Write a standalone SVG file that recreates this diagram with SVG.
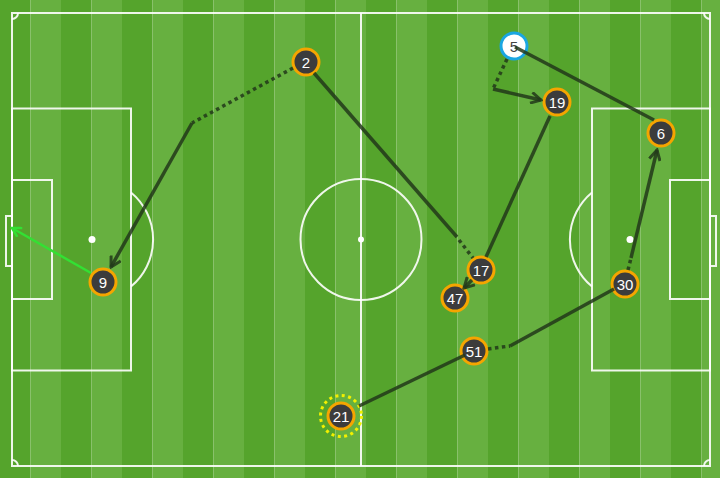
<svg xmlns="http://www.w3.org/2000/svg" width="720" height="478" viewBox="0 0 720 478">
<defs>
<pattern id="stripes" x="0" y="0" width="61" height="478" patternUnits="userSpaceOnUse">
<rect x="0" y="0" width="30.5" height="478" fill="#55a42c"/>
<rect x="30.5" y="0" width="30.5" height="478" fill="#67b040"/>
</pattern>
<marker id="arr" viewBox="0 0 13 13" refX="11" refY="6.5" markerWidth="13" markerHeight="13" markerUnits="userSpaceOnUse" orient="auto">
<path d="M1,1 L11,6.5 L1,12" fill="none" stroke="#22381a" stroke-width="3" stroke-opacity="0.85"/>
</marker>
<marker id="arrg" viewBox="0 0 12 12" refX="10" refY="6" markerWidth="12" markerHeight="12" markerUnits="userSpaceOnUse" orient="auto">
<path d="M1,1 L10,6 L1,11" fill="none" stroke="#33e033" stroke-width="2.5"/>
</marker>
</defs>
<style>
.ln{fill:none;stroke:#ffffff;stroke-width:2;stroke-opacity:0.9}
.spot{fill:#ffffff}
.pass{fill:none;stroke:#22381a;stroke-opacity:0.85;stroke-width:3.5;stroke-linecap:butt}
.carry{fill:none;stroke:#22381a;stroke-opacity:0.85;stroke-width:3.5;stroke-dasharray:3.5 3.5}
.shot{fill:none;stroke:#33e033;stroke-width:2.5}
.pl circle.b{fill:#3c3c3c;stroke:#f5a500;stroke-width:3}
.pl text{font-family:"Liberation Sans",Arial,sans-serif;font-size:15px;fill:#ffffff;text-anchor:middle}
</style>
<g id="pitch">
<rect x="0" y="0" width="720" height="478" fill="url(#stripes)"/>
<rect class="ln" x="12" y="13" width="698" height="453"/>
<line class="ln" x1="361" y1="13" x2="361" y2="466"/>
<circle class="ln" cx="361" cy="239.5" r="60.5"/>
<circle class="spot" cx="361" cy="239.5" r="3"/>
<rect class="ln" x="12" y="108.5" width="119" height="262"/>
<rect class="ln" x="12" y="180" width="40" height="119"/>
<rect class="ln" x="6" y="216" width="6" height="50"/>
<circle class="spot" cx="92" cy="239.5" r="3.5"/>
<path class="ln" d="M131,192.5 A61,61 0 0 1 131,286.5"/>
<rect class="ln" x="592" y="108.5" width="118" height="262"/>
<rect class="ln" x="670" y="180" width="40" height="119"/>
<rect class="ln" x="710" y="216" width="6" height="50"/>
<circle class="spot" cx="630" cy="239.5" r="3.5"/>
<path class="ln" d="M592,192.5 A61,61 0 0 0 592,286.5"/>
<path class="ln" d="M12,19 A6,6 0 0 0 18,13"/>
<path class="ln" d="M704,13 A6,6 0 0 0 710,19"/>
<path class="ln" d="M12,460 A6,6 0 0 1 18,466"/>
<path class="ln" d="M704,466 A6,6 0 0 1 710,460"/>
</g>
<g id="nodes">
<g id="p2" class="pl"><circle class="b" cx="306" cy="62" r="13"/><text x="306" y="67.5">2</text></g>
<g id="p5" class="pl"><circle cx="514" cy="46" r="13" fill="#ffffff" stroke="#1aa6e2" stroke-width="3"/><text x="514" y="51.5" style="fill:#444444">5</text></g>
<g id="p19" class="pl"><circle class="b" cx="557" cy="102" r="13"/><text x="557" y="107.5">19</text></g>
<g id="p6" class="pl"><circle class="b" cx="661" cy="133" r="13"/><text x="661" y="138.5">6</text></g>
<g id="p17" class="pl"><circle class="b" cx="481" cy="270" r="13"/><text x="481" y="275.5">17</text></g>
<g id="p47" class="pl"><circle class="b" cx="455" cy="298" r="13"/><text x="455" y="303.5">47</text></g>
<g id="p9" class="pl"><circle class="b" cx="103" cy="282" r="13"/><text x="103" y="287.5">9</text></g>
<g id="p30" class="pl"><circle class="b" cx="625" cy="284" r="13"/><text x="625" y="289.5">30</text></g>
<g id="p51" class="pl"><circle class="b" cx="474" cy="351" r="13"/><text x="474" y="356.5">51</text></g>
<g id="p21" class="pl"><circle cx="341" cy="416" r="20.5" fill="none" stroke="#f2f000" stroke-width="3" stroke-dasharray="3 3.45"/><circle class="b" cx="341" cy="416" r="13"/><text x="341" y="421.5">21</text></g>
</g>
<g id="connectors">
<line class="pass" x1="359" y1="406" x2="465" y2="355"/>
<line class="carry" x1="488" y1="349" x2="510" y2="346"/>
<line class="pass" x1="510" y1="346" x2="614" y2="289"/>
<line class="carry" x1="628" y1="270" x2="631" y2="258"/>
<line class="pass" x1="631" y1="258" x2="657" y2="150" marker-end="url(#arr)"/>
<line class="pass" x1="654" y1="120" x2="515" y2="47"/>
<line class="carry" x1="507" y1="59" x2="493" y2="89"/>
<line class="pass" x1="493" y1="89" x2="541" y2="100" marker-end="url(#arr)"/>
<line class="pass" x1="550" y1="116" x2="486" y2="257"/>
<line class="pass" x1="472" y1="280" x2="464" y2="288" marker-end="url(#arr)"/>
<line class="pass" x1="314" y1="73" x2="457" y2="237"/>
<line class="carry" x1="459" y1="240" x2="473" y2="258"/>
<line class="carry" x1="293" y1="68" x2="192" y2="123"/>
<line class="pass" x1="192" y1="123" x2="111" y2="267" marker-end="url(#arr)"/>
<line class="shot" x1="91" y1="273" x2="12" y2="228" marker-end="url(#arrg)"/>
</g>
</svg>
